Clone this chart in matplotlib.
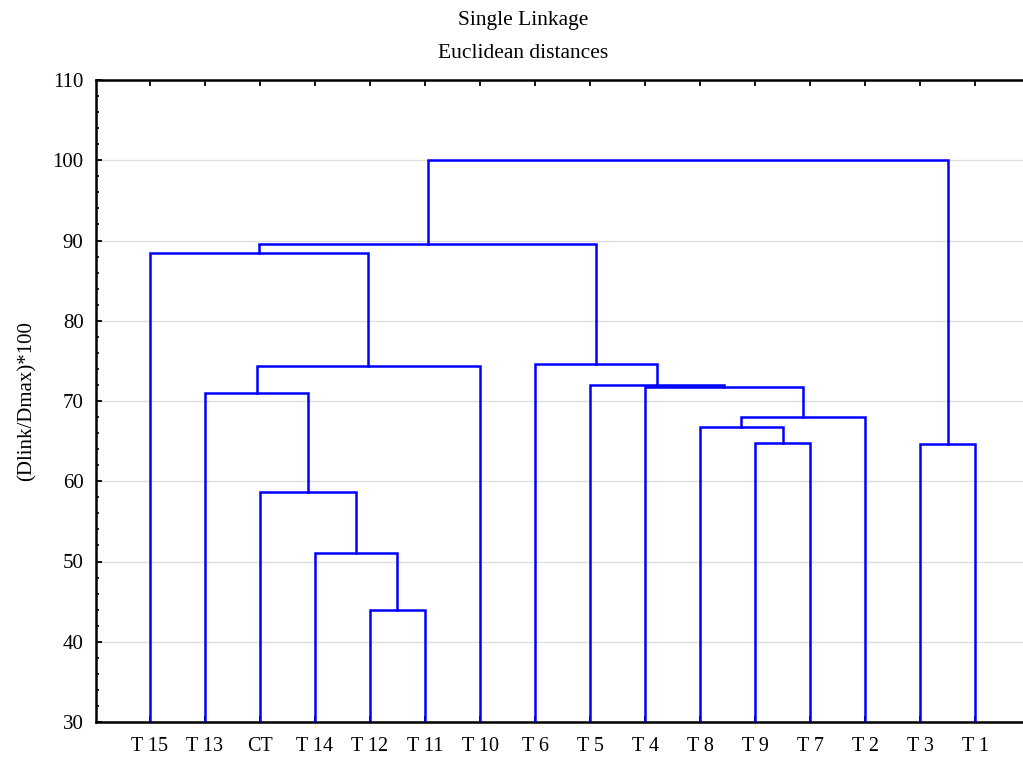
import matplotlib
matplotlib.use('Agg')
import matplotlib.pyplot as plt
from matplotlib.ticker import MultipleLocator

# leaf labels in dendrogram order
leaves = ['T 15', 'T 13', 'CT', 'T 14', 'T 12', 'T 11', 'T 10', 'T 6',
          'T 5', 'T 4', 'T 8', 'T 9', 'T 7', 'T 2', 'T 3', 'T 1']

# merges: ids < 16 are leaves, ids >= 16 are earlier merges (16 + row)
merge_left = [4, 3, 2, 1, 19, 0, 11, 14, 10, 24, 9, 8, 7, 21, 29]
merge_right = [5, 16, 17, 18, 6, 20, 12, 15, 22, 13, 25, 26, 27, 28, 23]
merge_height = [43.9, 51.1, 58.7, 71.0, 74.3, 88.5, 64.8, 64.6,
                66.7, 68.0, 71.7, 72.0, 74.6, 89.6, 100.0]

y_bottom = 30
line_col = '#0000ff'
serif = 'Liberation Serif'

fig = plt.figure(figsize=(10.23, 7.63), dpi=100)
ax = fig.add_axes([96 / 1023, 1 - 722 / 763, 1 - 96 / 1023, (722 - 80) / 763])

xpos = {i: float(i) for i in range(len(leaves))}
ypos = {i: y_bottom for i in range(len(leaves))}
for k, (a, b, h) in enumerate(zip(merge_left, merge_right, merge_height)):
    ax.plot([xpos[a], xpos[a], xpos[b], xpos[b]], [ypos[a], h, h, ypos[b]],
            color=line_col, lw=1.8, solid_joinstyle='miter', zorder=3)
    xpos[16 + k] = (xpos[a] + xpos[b]) / 2
    ypos[16 + k] = h

ax.set_xlim(-0.98, 15.87)
ax.set_ylim(30, 110)
ax.yaxis.set_major_locator(MultipleLocator(10))
ax.yaxis.set_minor_locator(MultipleLocator(2))
ax.set_xticks(range(len(leaves)))
ax.set_xticklabels(leaves)
ax.grid(axis='y', color='#dddddd', lw=1, zorder=0)
ax.set_axisbelow(True)

for s in ['left', 'bottom', 'top']:
    ax.spines[s].set_linewidth(1.8)
ax.spines['right'].set_visible(False)

ax.tick_params(axis='y', which='major', direction='in', length=4, width=1.3,
               labelsize=15, pad=9)
ax.tick_params(axis='y', which='minor', direction='in', length=2.5, width=1.2)
ax.tick_params(axis='x', which='major', direction='in', length=4, width=1.3,
               top=True, labelsize=14.5, pad=11)
for lab in ax.get_xticklabels() + ax.get_yticklabels():
    lab.set_family(serif)

ax.set_ylabel('(Dlink/Dmax)*100', family=serif, fontsize=15, labelpad=11)

fig.text(523 / 1023, 1 - 20 / 763, 'Single Linkage', ha='center', va='center',
         family=serif, fontsize=15.5)
fig.text(523 / 1023, 1 - 53 / 763, 'Euclidean distances', ha='center',
         va='center', family=serif, fontsize=15.5)

fig.savefig('out.png', dpi=100)
